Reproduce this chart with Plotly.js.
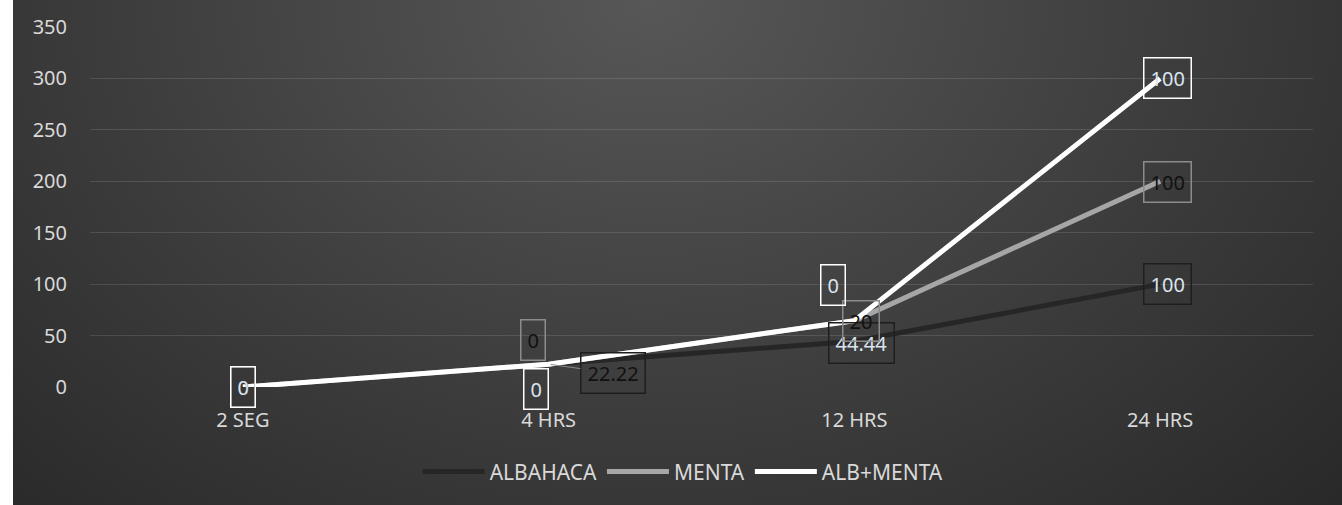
<!DOCTYPE html>
<html>
<head>
<meta charset="utf-8">
<script src="https://cdn.plot.ly/plotly-3.0.1.min.js"></script>
<style>
html,body{margin:0;padding:0;background:#ffffff;width:1342px;height:505px;overflow:hidden;}
#chart{position:absolute;left:13px;top:0;width:1329px;height:505px;
background:radial-gradient(ellipse 75% 150% at 48% 0%, #575757 0%, #3c3c3c 55%, #272727 100%);}
</style>
</head>
<body>
<div id="chart"></div>
<script>
// ---- data ----
const categories = ['2 SEG', '4 HRS', '12 HRS', '24 HRS'];
const seriesNames = ['ALBAHACA', 'MENTA', 'ALB+MENTA'];
const albahaca = [0, 22.22, 44.44, 100];
const menta = [0, 0, 20, 100];
const albMenta = [0, 0, 0, 100];
const yTicks = [0, 50, 100, 150, 200, 250, 300, 350];

// ---- styles ----
const lineColors = ['#262626', '#a6a6a6', '#ffffff'];
const boxColors = ['#1e1e1e', '#8c8c8c', '#ffffff'];
const labelTextColors = [
  ['#d9d9d9', '#111111', '#d9e4f0', '#d9e4f0'],
  ['#111111', '#111111', '#111111', '#111111'],
  ['#d9e4f0', '#d9e4f0', '#d9e4f0', '#d9e4f0']
];
const labelOffsets = [
  [[0, 0], [64, 9], [7, 2], [7, 0]],
  [[0, 0], [-16, -24], [7, 0], [7, 1]],
  [[0, 0], [-13, 25], [-21, -36], [7, 0]]
];

const raw = [albahaca, menta, albMenta];
const stacked = [];
let running = categories.map(() => 0);
raw.forEach(s => {
  running = running.map((v, i) => v + s[i]);
  stacked.push(running.slice());
});

const font = 'Noto Sans, Open Sans, sans-serif';
const traces = raw.map((s, k) => ({
  type: 'scatter', mode: 'lines', name: seriesNames[k],
  x: categories, y: stacked[k],
  line: {color: lineColors[k], width: 5},
  cliponaxis: false, hoverinfo: 'skip'
}));

const annotations = [];
raw.forEach((s, k) => {
  s.forEach((v, i) => {
    const off = labelOffsets[k][i];
    const leader = (k === 0 && i === 1);
    annotations.push({
      xref: 'x', yref: 'y', x: categories[i], y: stacked[k][i],
      text: String(v),
      showarrow: true, arrowhead: 0, arrowwidth: 1,
      arrowcolor: leader ? '#8c8c8c' : 'rgba(0,0,0,0)',
      ax: off[0], ay: off[1], standoff: leader ? 2 : 0,
      bordercolor: boxColors[k], borderwidth: 1.5, borderpad: 6,
      font: {family: font, size: 20, color: labelTextColors[k][i]}
    });
  });
});

const layout = {
  width: 1329, height: 505,
  paper_bgcolor: 'rgba(0,0,0,0)', plot_bgcolor: 'rgba(0,0,0,0)',
  margin: {l: 77, r: 29, t: 27, b: 118},
  font: {family: font, size: 20, color: '#d9d9d9'},
  showlegend: true,
  legend: {orientation: 'h', x: 0.485, xanchor: 'center', y: -0.236, yanchor: 'middle',
    font: {family: font, size: 21, color: '#d9d9d9'}, bgcolor: 'rgba(0,0,0,0)', itemwidth: 62},
  xaxis: {type: 'category', range: [-0.5, 3.5], showgrid: false, zeroline: false,
    showline: false, ticks: '', ticklabelstandoff: 19,
    tickfont: {family: font, size: 20, color: '#d9d9d9'}},
  yaxis: {range: [0, 350], tickvals: yTicks, showgrid: true,
    gridcolor: 'rgba(255,255,255,0.12)', gridwidth: 1, zeroline: false, showline: false,
    ticks: '', ticklabelstandoff: 22,
    tickfont: {family: font, size: 20, color: '#d9d9d9'}},
  annotations: annotations
};

Plotly.newPlot('chart', traces, layout, {displayModeBar: false, staticPlot: true});
</script>
</body>
</html>
